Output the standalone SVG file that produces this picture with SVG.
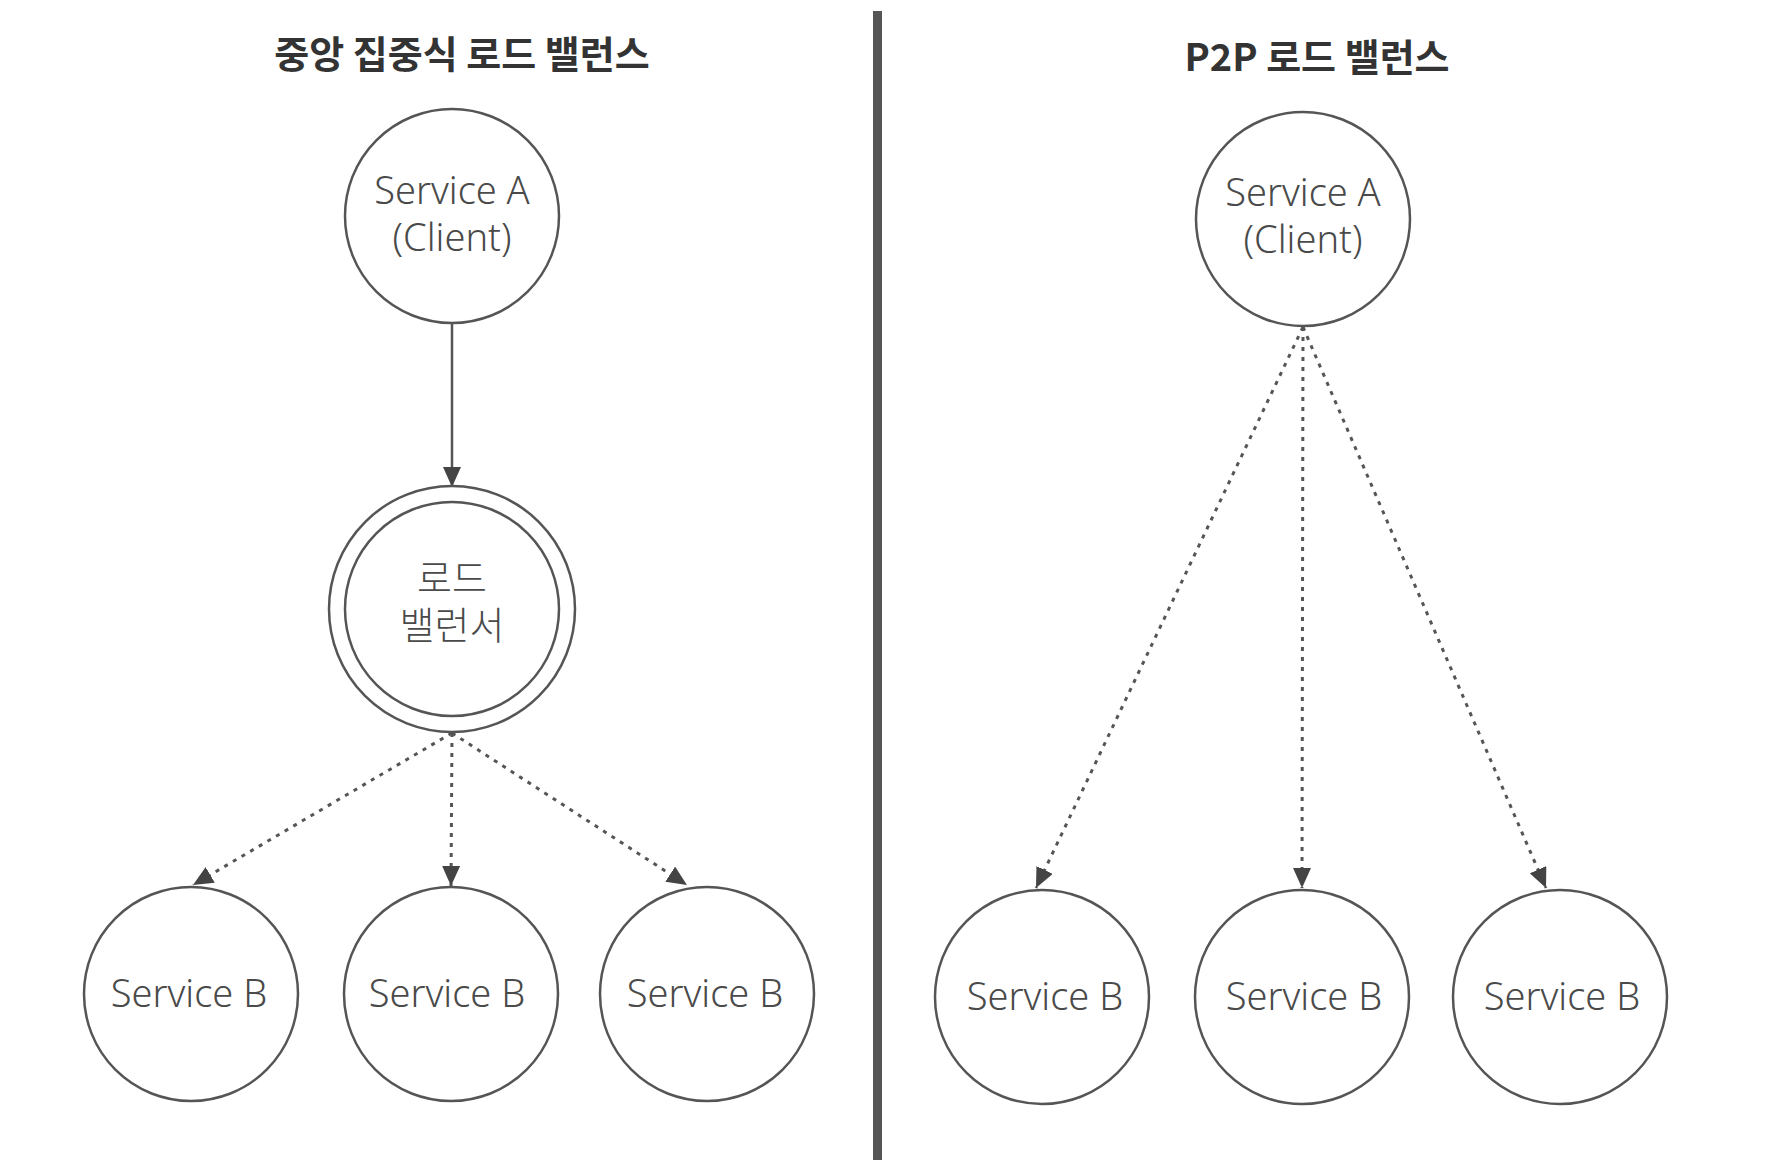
<svg xmlns="http://www.w3.org/2000/svg" width="1780" height="1160" viewBox="0 0 1780 1160">
<style>
.node{fill:#fff;stroke:#555;stroke-width:2.5}
.lbl{font-family:"Noto Sans","Noto Sans CJK KR",sans-serif;font-size:38px;font-weight:300;fill:#4a4a4a;text-anchor:middle}
.ttl{font-family:"Noto Sans CJK KR","Noto Sans",sans-serif;font-size:38px;font-weight:bold;fill:#333;text-anchor:middle}
.solid{stroke:#555;stroke-width:2.5;fill:none}
.dot{stroke:#555;stroke-width:3;fill:none;stroke-dasharray:4 6}
</style>
<defs>
<marker id="arr" markerUnits="userSpaceOnUse" markerWidth="20" markerHeight="18" refX="20" refY="9" orient="auto">
<path d="M0,0 L20,9 L0,18 z" fill="#444"/>
</marker>
</defs>
<rect width="1780" height="1160" fill="#fff"/>
<rect x="873" y="11" width="9" height="1149" fill="#555"/>
<text class="ttl" x="462" y="68">중앙 집중식 로드 밸런스</text>
<text class="ttl" x="1317" y="71">P2P 로드 밸런스</text>
<g id="connectors">
<line class="solid" x1="452" y1="323" x2="452" y2="487" marker-end="url(#arr)"/>
<line class="dot" x1="452" y1="733" x2="193" y2="885" marker-end="url(#arr)"/>
<line class="dot" x1="452" y1="733" x2="451" y2="886" marker-end="url(#arr)"/>
<line class="dot" x1="452" y1="733" x2="687" y2="885" marker-end="url(#arr)"/>
<line class="dot" x1="1303" y1="327" x2="1036" y2="888" marker-end="url(#arr)"/>
<line class="dot" x1="1303" y1="327" x2="1302" y2="888" marker-end="url(#arr)"/>
<line class="dot" x1="1303" y1="327" x2="1546" y2="888" marker-end="url(#arr)"/>
</g>
<g id="left-client">
<circle class="node" cx="452" cy="216" r="107"/>
<text class="lbl" x="452" y="204">Service A</text>
<text class="lbl" x="452" y="251">(Client)</text>
</g>
<g id="load-balancer">
<circle class="node" cx="452" cy="609" r="123"/>
<circle class="node" cx="452" cy="609" r="107"/>
<text class="lbl" x="452" y="592">로드</text>
<text class="lbl" x="452" y="639">밸런서</text>
</g>
<g id="left-b1"><circle class="node" cx="191" cy="994" r="107"/><text class="lbl" x="189" y="1007">Service B</text></g>
<g id="left-b2"><circle class="node" cx="451" cy="994" r="107"/><text class="lbl" x="447" y="1007">Service B</text></g>
<g id="left-b3"><circle class="node" cx="707" cy="994" r="107"/><text class="lbl" x="705" y="1007">Service B</text></g>
<g id="right-client">
<circle class="node" cx="1303" cy="219" r="107"/>
<text class="lbl" x="1303" y="206">Service A</text>
<text class="lbl" x="1303" y="253">(Client)</text>
</g>
<g id="right-b1"><circle class="node" cx="1042" cy="997" r="107"/><text class="lbl" x="1045" y="1010">Service B</text></g>
<g id="right-b2"><circle class="node" cx="1302" cy="997" r="107"/><text class="lbl" x="1304" y="1010">Service B</text></g>
<g id="right-b3"><circle class="node" cx="1560" cy="997" r="107"/><text class="lbl" x="1562" y="1010">Service B</text></g>
</svg>
